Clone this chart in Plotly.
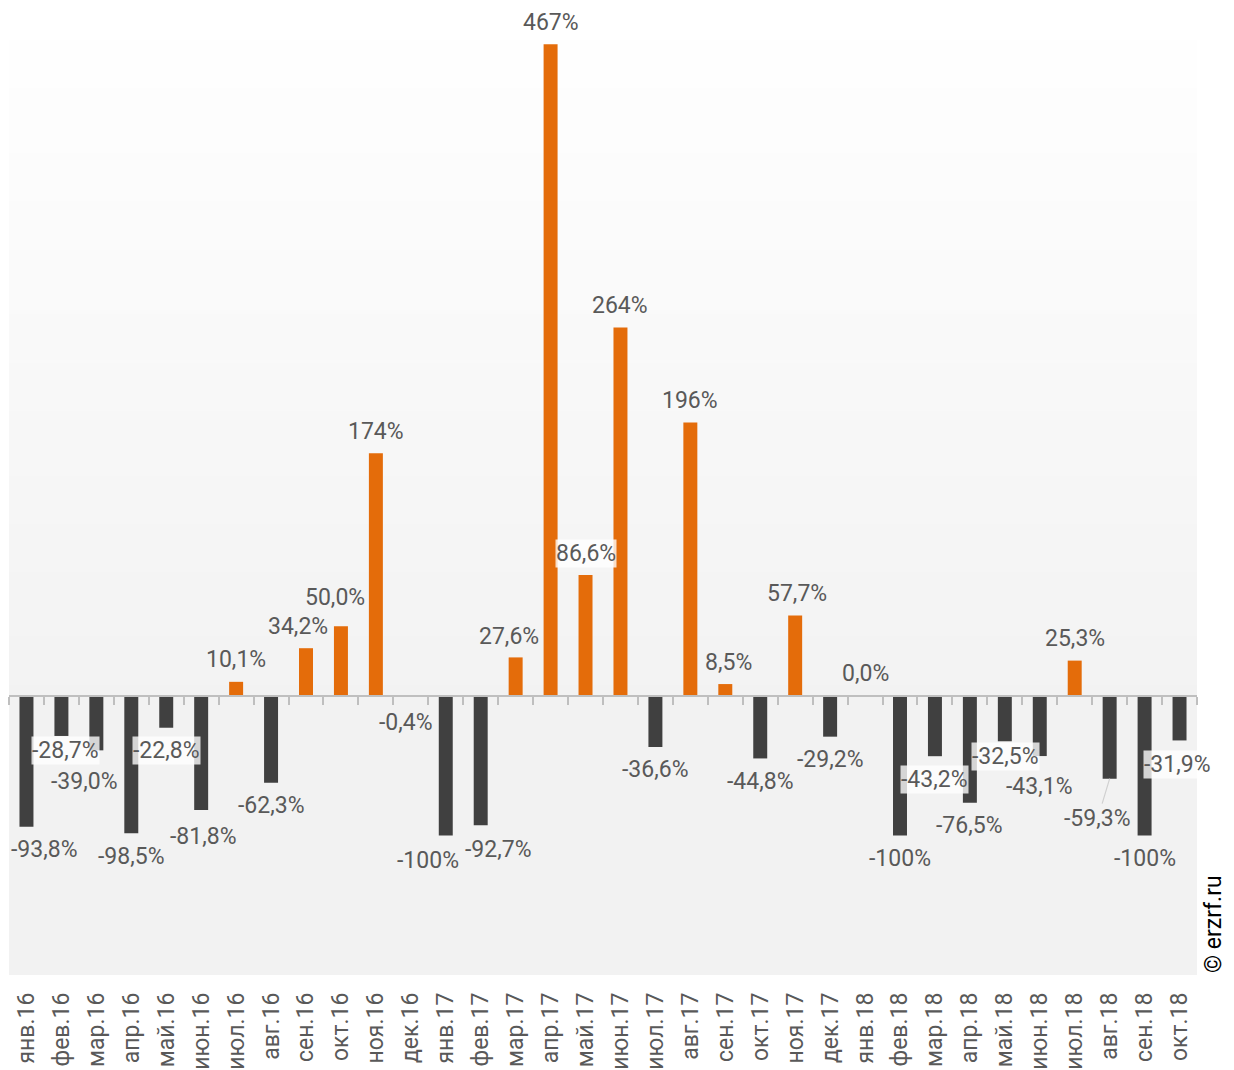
import plotly.graph_objects as go

# ─── DATA ────────────────────────────────────────────────────────────────────
months = [
    "янв.16", "фев.16", "мар.16", "апр.16", "май.16", "июн.16", "июл.16", "авг.16",
    "сен.16", "окт.16", "ноя.16", "дек.16", "янв.17", "фев.17", "мар.17", "апр.17",
    "май.17", "июн.17", "июл.17", "авг.17", "сен.17", "окт.17", "ноя.17", "дек.17",
    "янв.18", "фев.18", "мар.18", "апр.18", "май.18", "июн.18", "июл.18", "авг.18",
    "сен.18", "окт.18",
]
change_pct = [
    -93.8, -28.7, -39.0, -98.5, -22.8, -81.8, 10.1, -62.3,
    34.2, 50.0, 174, -0.4, -100, -92.7, 27.6, 467,
    86.6, 264, -36.6, 196, 8.5, -44.8, 57.7, -29.2,
    0.0, -100, -43.2, -76.5, -32.5, -43.1, 25.3, -59.3,
    -100, -31.9,
]

ORANGE = "#E46C0A"
DARK = "#404040"
TXT = "#595959"
FONT = "Roboto, Arial, sans-serif"

# label tweaks: index -> (dx px, dy px screen-down)
label_nudge = {
    0: (18, 0), 1: (4, -8), 2: (-12, 8), 5: (2, 3), 8: (-8, 0), 9: (-6, -7),
    11: (-5, 3), 12: (-18, 2), 13: (18, 1), 14: (-7, 1), 20: (3, 0),
    22: (2, 0), 28: (1, -8), 29: (0, 7), 33: (-2, 1),
}
boxed = {1, 4, 16, 26, 28, 33}


def fmt(v):
    s = f"{v:.0f}%" if abs(v) >= 100 else f"{v:.1f}%"
    return s.replace(".", ",")


colors = [ORANGE if v >= 0 else DARK for v in change_pct]

fig = go.Figure()
fig.add_trace(go.Bar(
    x=months, y=change_pct,
    marker=dict(color=colors, line=dict(width=0)),
    width=0.4,
    hoverinfo="x+y",
))
# invisible companion so the zero-line axis gets drawn
fig.add_trace(go.Scatter(
    x=months, y=[0] * len(months), xaxis="x2", mode="markers",
    marker=dict(opacity=0), hoverinfo="skip", showlegend=False,
))

# ─── gradient background ─────────────────────────────────────────────────────
steps = 60
for i in range(steps):
    y0 = i / steps
    y1 = (i + 1) / steps
    t = min(1.0, (1 - y1) / 0.72)
    g = round(242 + (255 - 242) * (1 - t))
    fig.add_shape(type="rect", xref="paper", yref="paper",
                  x0=0, x1=1, y0=y0, y1=y1 + 0.002,
                  fillcolor=f"rgb({g},{g},{g})", line=dict(width=0), layer="below")

# ─── value labels ────────────────────────────────────────────────────────────
for i, (m, v) in enumerate(zip(months, change_pct)):
    dx, dy = label_nudge.get(i, (0, 0))
    base = 22 if v >= 0 else -23
    ann = dict(
        x=m, y=v, text=fmt(v), showarrow=False,
        xanchor="center", yanchor="middle",
        xshift=dx, yshift=base - dy,
        font=dict(family=FONT, size=23, color=TXT),
    )
    if i in boxed:
        ann.update(bgcolor="rgba(255,255,255,0.78)", borderpad=0)
    if i == 31:
        ann.update(showarrow=True, ax=-12, ay=40, xshift=0, yshift=0,
                   arrowhead=0, arrowwidth=1.2, arrowcolor="#d0d0d0", standoff=0)
    fig.add_annotation(**ann)

fig.add_annotation(
    text="© erzrf.ru", xref="paper", yref="paper", x=1.0135, y=0.0,
    xanchor="center", yanchor="bottom", textangle=-90, showarrow=False,
    font=dict(family=FONT, size=23, color="#000000"),
)

fig.update_layout(
    width=1226, height=1062,
    margin=dict(l=1, r=37, t=0, b=95),
    paper_bgcolor="white",
    plot_bgcolor="white",
    showlegend=False,
    xaxis=dict(
        type="category", showline=False, ticks="", showgrid=False, zeroline=False,
        tickangle=-90, tickfont=dict(family=FONT, size=23, color=TXT),
        ticklabelstandoff=12,
        range=[-0.5, len(months) - 0.5],
    ),
    xaxis2=dict(
        type="category", overlaying="x", matches="x", anchor="free",
        position=200 / 693, side="bottom",
        showline=True, linecolor="#BFBFBF", linewidth=2,
        ticks="outside", tickson="boundaries", ticklen=8, tickwidth=2,
        tickcolor="#BFBFBF", showticklabels=False, showgrid=False,
    ),
    yaxis=dict(range=[-200, 493], visible=False, showgrid=False, zeroline=False),
)

fig.write_html("out.html")
